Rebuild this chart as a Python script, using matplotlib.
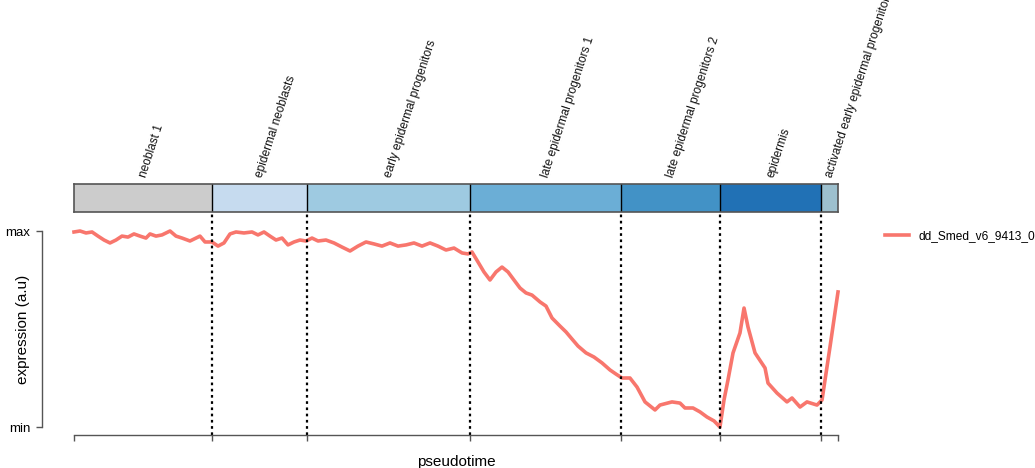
import matplotlib
matplotlib.use('Agg')
import matplotlib.pyplot as plt
import numpy as np

plt.rcParams['font.family'] = ['Liberation Sans', 'DejaVu Sans']

# ── data ──────────────────────────────────────
stages = ['neoblast 1', 'epidermal neoblasts', 'early epidermal progenitors',
          'late epidermal progenitors 1', 'late epidermal progenitors 2',
          'epidermis', 'activated early epidermal progenitors']
stage_edges = [0.0, 18.06, 30.50, 51.83, 71.60, 84.55, 97.77, 100.0]
stage_colors = ['#CCCCCC', '#C6DBEF', '#9ECAE1', '#6BAED6', '#4292C6',
                '#2171B5', '#9DC0CE']

gene_name = 'dd_Smed_v6_9413_0'
pseudotime = [0.0, 0.79, 1.57, 2.36, 3.14, 3.93, 4.71, 5.50, 6.28, 7.07,
              7.85, 8.64, 9.42, 9.95, 10.73, 11.52, 12.57, 13.35, 14.14, 15.18,
              15.97, 16.49, 17.15, 18.06, 18.85, 19.63, 20.42, 21.20, 22.25, 23.30,
              24.08, 24.87, 25.65, 26.44, 27.23, 28.01, 28.80, 29.58, 30.37, 31.15,
              31.94, 32.98, 34.03, 35.08, 36.13, 37.17, 38.22, 39.27, 40.31, 41.36,
              42.41, 43.46, 44.50, 45.55, 46.60, 47.64, 48.69, 49.74, 50.79, 51.57,
              52.09, 52.88, 53.66, 54.45, 55.24, 56.02, 56.81, 57.59, 58.38, 59.16,
              59.95, 61.00, 61.78, 62.57, 63.61, 64.40, 65.18, 65.97, 67.02, 68.06,
              69.11, 70.16, 70.94, 71.73, 72.77, 73.69, 74.74, 76.05, 76.70, 78.27,
              79.32, 79.97, 81.02, 81.94, 82.85, 83.77, 84.55, 85.08, 85.60, 86.26,
              87.17, 87.70, 88.22, 89.14, 90.45, 90.84, 92.02, 93.32, 93.98, 95.03,
              95.94, 97.25, 97.91, 98.95, 100.0]
expression = [0.995, 1.0, 0.99, 0.995, 0.974, 0.954, 0.939, 0.954, 0.974, 0.969,
              0.985, 0.974, 0.964, 0.985, 0.974, 0.980, 1.0, 0.974, 0.964, 0.949,
              0.964, 0.974, 0.944, 0.944, 0.923, 0.939, 0.985, 0.995, 0.990, 0.995,
              0.980, 0.995, 0.974, 0.954, 0.964, 0.929, 0.944, 0.954, 0.949, 0.964,
              0.949, 0.954, 0.939, 0.918, 0.898, 0.923, 0.944, 0.934, 0.923, 0.939,
              0.923, 0.929, 0.939, 0.923, 0.939, 0.923, 0.903, 0.913, 0.888, 0.883,
              0.893, 0.842, 0.791, 0.750, 0.791, 0.816, 0.791, 0.750, 0.709, 0.684,
              0.673, 0.638, 0.617, 0.556, 0.515, 0.485, 0.449, 0.413, 0.378, 0.357,
              0.327, 0.291, 0.270, 0.250, 0.250, 0.204, 0.128, 0.087, 0.112, 0.128,
              0.122, 0.097, 0.097, 0.077, 0.051, 0.031, 0.0, 0.138, 0.240, 0.378,
              0.480, 0.607, 0.510, 0.378, 0.301, 0.224, 0.173, 0.128, 0.148, 0.102,
              0.128, 0.112, 0.138, 0.408, 0.689]

LINE_COLOR = '#F8766D'
AXIS_COLOR = '#555555'

# ── figure ────────────────────────────────────
W, H = 1035, 468
fig = plt.figure(figsize=(W / 100, H / 100), dpi=100)

def px_rect(x0, y0, x1, y1):
    return [x0 / W, 1 - y1 / H, (x1 - x0) / W, (y1 - y0) / H]

# stage bar
axb = fig.add_axes(px_rect(74, 184, 838, 212))
for i in range(len(stages)):
    axb.axvspan(stage_edges[i], stage_edges[i + 1], color=stage_colors[i], lw=0)
    if i > 0:
        axb.axvline(stage_edges[i], color='black', lw=1.0)
    mid = (stage_edges[i] + stage_edges[i + 1]) / 2
    axb.text(mid, 1.25, stages[i], rotation=72, rotation_mode='anchor',
             ha='left', va='center', fontsize=8.6, color='#111111',
             transform=axb.get_xaxis_transform(), clip_on=False)
axb.set_xlim(0, 100)
axb.set_ylim(0, 1)
axb.set_xticks([])
axb.set_yticks([])
for s in axb.spines.values():
    s.set_color(AXIS_COLOR)
    s.set_linewidth(1.2)

# expression plot
ax = fig.add_axes(px_rect(74, 231, 838, 427))
ax.plot(pseudotime, expression, color=LINE_COLOR, lw=2.6, clip_on=False,
        solid_joinstyle='round', label=gene_name)
for e in stage_edges[1:-1]:
    ax.plot([e, e], [-0.041, 1.097], color='black', lw=1.6, ls=(0, (1.2, 1.6)),
            clip_on=False)
ax.set_xlim(0, 100)
ax.set_ylim(0, 1)

for side in ['top', 'right']:
    ax.spines[side].set_visible(False)
ax.spines['bottom'].set_position(('outward', 5.8))
ax.spines['left'].set_position(('outward', 23))
ax.spines['bottom'].set_color(AXIS_COLOR)
ax.spines['left'].set_color(AXIS_COLOR)
ax.spines['bottom'].set_linewidth(1.0)
ax.spines['left'].set_linewidth(1.0)

ax.set_xticks(stage_edges)
ax.set_xticklabels([])
ax.set_yticks([0, 1])
ax.set_yticklabels(['min', 'max'])
ax.tick_params(axis='both', length=4.5, width=1.0, color=AXIS_COLOR,
               labelsize=9.5, pad=4)
ax.set_xlabel('pseudotime', fontsize=11, labelpad=6)
ax.set_ylabel('expression (a.u)', fontsize=11)
ax.yaxis.set_label_coords(30 / W, 1 - 329 / H, transform=fig.transFigure)

ax.legend(loc='center left', bbox_to_anchor=(885 / W, 1 - 236 / H),
          bbox_transform=fig.transFigure, frameon=False, borderpad=0,
          borderaxespad=0, fontsize=8.6, handlelength=2.0, handletextpad=0.8)

fig.savefig('out.png', dpi=100)
